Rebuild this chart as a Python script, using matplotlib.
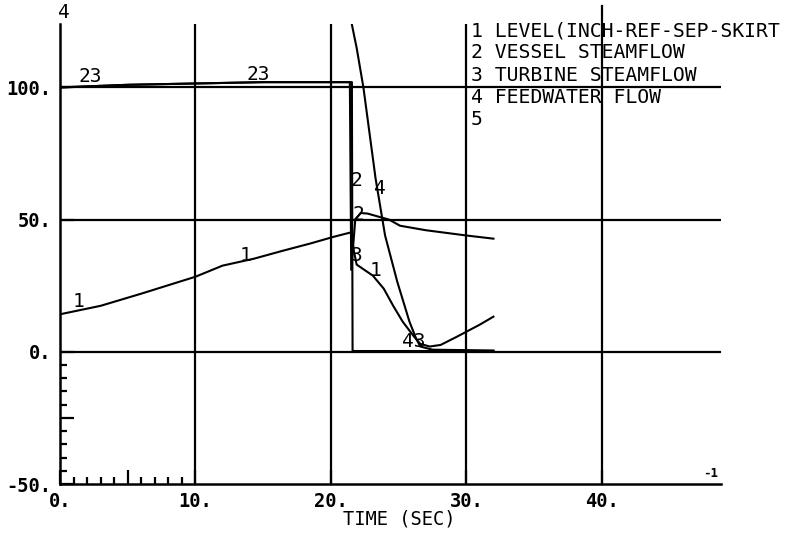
import matplotlib
matplotlib.use('Agg')
from matplotlib import pyplot as plt
from matplotlib.ticker import FixedLocator, FixedFormatter

# series (time in sec)
t_level = [0, 1.5, 3, 6, 10, 12, 14.3, 16.5, 18.5, 20.2, 21.5, 21.7, 21.9,
           23.1, 23.9, 24.6, 25.3, 26.1, 26.6, 27.3, 28.1, 29.3, 30, 31, 32]
level = [14.2, 15.8, 17.4, 22, 28.4, 32.6, 35.2, 38.3, 41, 43.5, 45.2, 38, 33,
         28.8, 23.9, 17.4, 11.4, 6, 3, 2, 2.6, 5.7, 7.6, 10.3, 13.3]

t_vessel = [0, 5, 10, 15, 21.4, 21.5, 21.8, 22.2, 22.7, 23.6, 24.3, 25.1,
            27, 30, 32]
vessel = [100, 101, 101.5, 102, 102, 31, 50, 52.5, 52.3, 51, 50, 47.7,
          46, 44, 42.8]

t_turbine = [0, 5, 10, 15, 21.55, 21.6, 27.5, 32]
turbine = [100, 101, 101.5, 102, 102, 0.3, 0.3, 0.3]

t_feed = [0, 21.3, 21.9, 22.4, 23.3, 24.0, 24.9, 25.8, 26.3, 26.6, 27.5, 32]
feed = [130, 130, 115, 100, 65.5, 44, 26.5, 11.4, 4.9, 2, 0.8, 0.5]

legend_lines = ['1 LEVEL(INCH-REF-SEP-SKIRT', '2 VESSEL STEAMFLOW',
                '3 TURBINE STEAMFLOW', '4 FEEDWATER FLOW', '5']

# curve tags: (t, value, text)
tags = [(1.36, 18.9, '1'), (13.7, 36.4, '1'), (2.25, 104.2, '23'),
        (14.6, 104.9, '23'), (21.9, 64.8, '2'), (23.6, 61.7, '4'),
        (22.0, 51.9, '2'), (21.9, 36.4, '3'), (23.3, 30.7, '1'),
        (26.1, 3.8, '43')]

x_major = [0, 5, 10, 20, 30, 40]
x_labels = ['0.', '', '10.', '20.', '30.', '40.']
y_major = [-50, -25, 0, 50, 100]
y_labels = ['-50.', '', '0.', '50.', '100.']

mono = 'DejaVu Sans Mono'

fig = plt.figure(figsize=(7.9, 5.33), dpi=100)
ax = fig.add_axes([60 / 790, 1 - 484 / 533, 661 / 790, 460 / 533])

lw = 1.5
for t, v in [(t_level, level), (t_vessel, vessel), (t_turbine, turbine),
             (t_feed, feed)]:
    ax.plot(t, v, color='k', lw=lw)

for y in [0, 50, 100]:
    ax.axhline(y, color='k', lw=1.6)
for x in [10, 20, 30]:
    ax.axvline(x, color='k', lw=1.6)
ax.axvline(40, ymax=1.04, color='k', lw=1.6, clip_on=False)

for t, v, s in tags:
    ax.text(t, v, s, family=mono, fontsize=14, ha='center', va='center')
ax.text(0.3, 128.5, '4', family=mono, fontsize=14, ha='center', va='center',
        clip_on=False)

for i, s in enumerate(legend_lines):
    ax.text(30.35, 121.5 - 8.4 * i, s, family=mono, fontsize=14.2,
            ha='left', va='center', clip_on=False)

ax.set_xlim(0, 48.8)
ax.set_ylim(-50, 124)

for side in ['top', 'right']:
    ax.spines[side].set_visible(False)
for side in ['left', 'bottom']:
    ax.spines[side].set_linewidth(1.8)

ax.xaxis.set_major_locator(FixedLocator(x_major))
ax.xaxis.set_major_formatter(FixedFormatter(x_labels))
ax.yaxis.set_major_locator(FixedLocator(y_major))
ax.yaxis.set_major_formatter(FixedFormatter(y_labels))
ax.xaxis.set_minor_locator(FixedLocator([1, 2, 3, 4, 6, 7, 8, 9]))
ax.yaxis.set_minor_locator(FixedLocator([-45, -40, -35, -30, -20, -15, -10, -5]))
ax.tick_params(which='major', direction='in', length=10, width=1.6, pad=6)
ax.tick_params(which='minor', direction='in', length=5, width=1.6)
for lab in ax.get_xticklabels() + ax.get_yticklabels():
    lab.set_family(mono)
    lab.set_fontsize(13.5)
    lab.set_fontweight('bold')

ax.set_xlabel('TIME (SEC)', family=mono, fontsize=13.5)
ax.xaxis.set_label_coords(0.513, -0.055)

ax.text(48.6, -48.5, '-1', family=mono, fontsize=9, fontweight='bold',
        ha='right', va='bottom')

plt.savefig('out.png')
